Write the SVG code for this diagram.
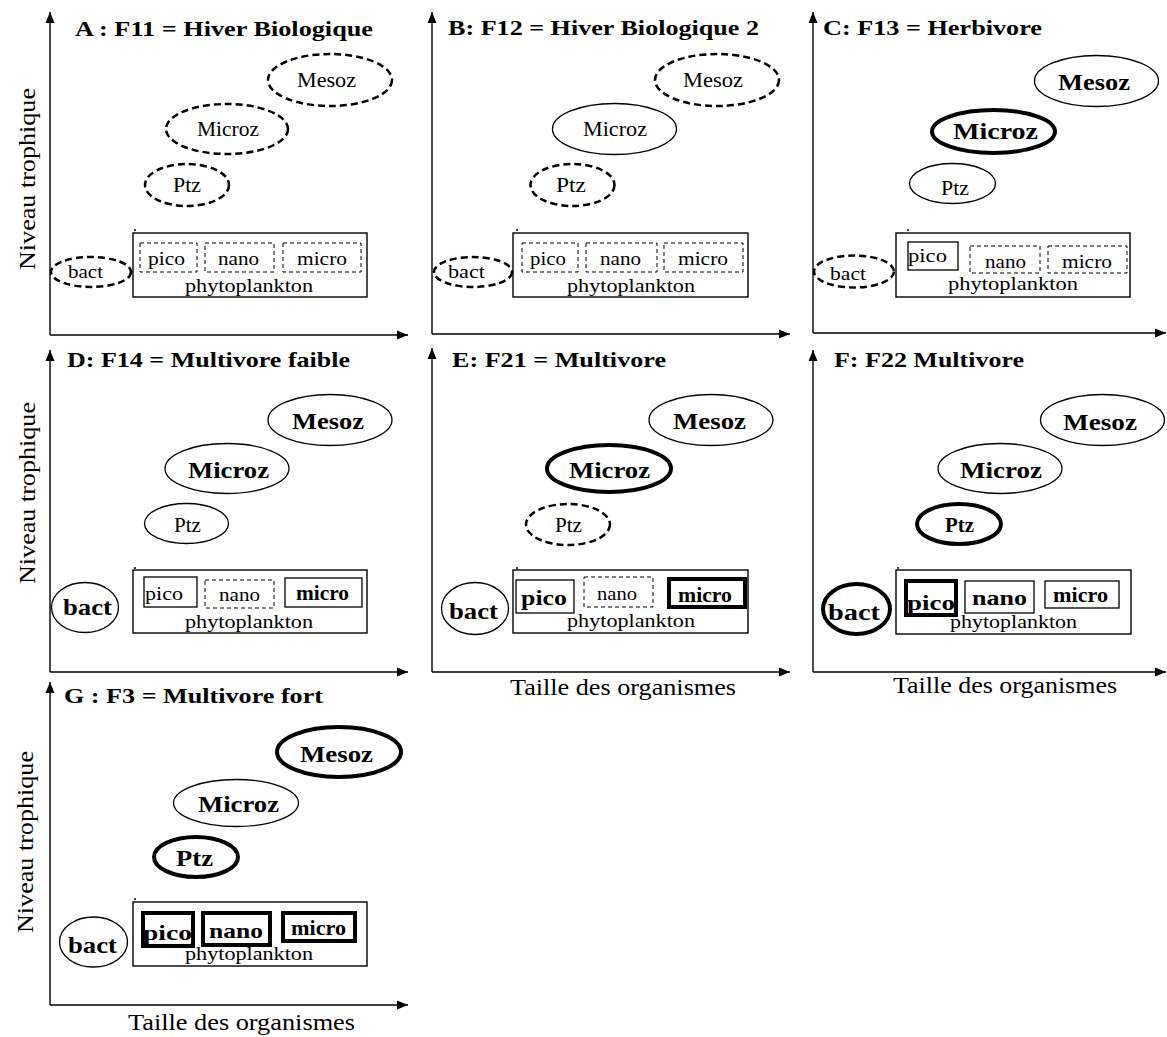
<svg xmlns="http://www.w3.org/2000/svg" width="1167" height="1037" viewBox="0 0 1167 1037">
<defs>
<marker id="arr" markerUnits="userSpaceOnUse" markerWidth="12" markerHeight="10" refX="11" refY="5" orient="auto">
<path d="M0,0.5 L11,5 L0,9.5 z" fill="#000"/>
</marker>
<style>
text{font-family:"Liberation Serif","Times New Roman",serif;fill:#000}
.b{font-weight:bold}
.s18{font-size:18px}.s20{font-size:20px}.s22{font-size:22px}.s24{font-size:24px}
.ax{stroke:#000;stroke-width:1.4;fill:none;marker-end:url(#arr)}
.ed{fill:none;stroke:#000;stroke-width:2.5;stroke-dasharray:7 4}
.en{fill:none;stroke:#000;stroke-width:1.3}
.ek{fill:none;stroke:#000;stroke-width:4}
.rp{fill:none;stroke:#000;stroke-width:1.4}
.bd{fill:none;stroke:#000;stroke-width:1;stroke-dasharray:4 3}
.bn{fill:none;stroke:#000;stroke-width:1.3}
.bk{fill:none;stroke:#000;stroke-width:4}
</style>
</defs>
<rect width="1167" height="1037" fill="#fff"/>

<g id="connectors">
<path class="ax" d="M50,335 V12"/><path class="ax" d="M50,335 H408"/>
<path class="ax" d="M432,334 V12"/><path class="ax" d="M432,334 H790"/>
<path class="ax" d="M813,333 V12"/><path class="ax" d="M813,333 H1166"/>
<path class="ax" d="M50,672 V350"/><path class="ax" d="M50,672 H408"/>
<path class="ax" d="M432,672 V348"/><path class="ax" d="M432,672 H790"/>
<path class="ax" d="M813,672 V350"/><path class="ax" d="M813,672 H1166"/>
<path class="ax" d="M50,1005 V682"/><path class="ax" d="M50,1005 H408"/>
</g>

<g id="axis-labels">
<text class="s24" transform="translate(35,179) rotate(-90)" text-anchor="middle" textLength="182" lengthAdjust="spacingAndGlyphs">Niveau trophique</text>
<text class="s24" transform="translate(35,493) rotate(-90)" text-anchor="middle" textLength="182" lengthAdjust="spacingAndGlyphs">Niveau trophique</text>
<text class="s24" transform="translate(33,842) rotate(-90)" text-anchor="middle" textLength="182" lengthAdjust="spacingAndGlyphs">Niveau trophique</text>
<text class="s24" x="510" y="695" textLength="226" lengthAdjust="spacingAndGlyphs">Taille des organismes</text>
<text class="s24" x="893" y="693" textLength="224" lengthAdjust="spacingAndGlyphs">Taille des organismes</text>
<text class="s24" x="128" y="1030" textLength="227" lengthAdjust="spacingAndGlyphs">Taille des organismes</text>
</g>

<!-- Panel A -->
<g id="panelA">
<text class="b s22" x="75" y="36" textLength="298" lengthAdjust="spacingAndGlyphs">A : F11 = Hiver Biologique</text>
<g id="A-mesoz"><ellipse class="ed" cx="330" cy="80" rx="62" ry="26"/><text class="s20" x="297" y="87" textLength="59" lengthAdjust="spacingAndGlyphs">Mesoz</text></g>
<g id="A-microz"><ellipse class="ed" cx="227" cy="129" rx="61" ry="25"/><text class="s20" x="197" y="136" textLength="62" lengthAdjust="spacingAndGlyphs">Microz</text></g>
<g id="A-ptz"><ellipse class="ed" cx="187" cy="185" rx="42" ry="21"/><text class="s20" x="173" y="192" textLength="28" lengthAdjust="spacingAndGlyphs">Ptz</text></g>
<g id="A-bact"><ellipse class="ed" cx="91" cy="272" rx="40" ry="15"/><text class="s18" x="68" y="278" textLength="35" lengthAdjust="spacingAndGlyphs">bact</text></g>
<g id="A-phyto"><rect class="rp" x="133" y="233" width="234" height="64"/><circle cx="135" cy="230" r="1" fill="#000"/>
<text class="s18" x="185" y="292" textLength="128" lengthAdjust="spacingAndGlyphs">phytoplankton</text></g>
<g id="A-pico"><rect class="bd" x="140" y="243" width="57" height="29"/><text class="s18" x="148" y="265" textLength="37" lengthAdjust="spacingAndGlyphs">pico</text></g>
<g id="A-nano"><rect class="bd" x="205" y="243" width="69" height="29"/><text class="s18" x="218" y="265" textLength="41" lengthAdjust="spacingAndGlyphs">nano</text></g>
<g id="A-micro"><rect class="bd" x="283" y="243" width="78" height="29"/><text class="s18" x="297" y="265" textLength="50" lengthAdjust="spacingAndGlyphs">micro</text></g>
</g>

<!-- Panel B -->
<g id="panelB">
<text class="b s22" x="448" y="35" textLength="311" lengthAdjust="spacingAndGlyphs">B: F12 = Hiver Biologique 2</text>
<g id="B-mesoz"><ellipse class="ed" cx="717" cy="80" rx="62" ry="26"/><text class="s20" x="683" y="87" textLength="60" lengthAdjust="spacingAndGlyphs">Mesoz</text></g>
<g id="B-microz"><ellipse class="en" cx="614.5" cy="129" rx="62" ry="25.5"/><text class="s20" x="583" y="136" textLength="64" lengthAdjust="spacingAndGlyphs">Microz</text></g>
<g id="B-ptz"><ellipse class="ed" cx="572.5" cy="185" rx="42" ry="21"/><text class="s20" x="556" y="192" textLength="30" lengthAdjust="spacingAndGlyphs">Ptz</text></g>
<g id="B-bact"><ellipse class="ed" cx="473" cy="272" rx="39" ry="15"/><text class="s18" x="448" y="278" textLength="37" lengthAdjust="spacingAndGlyphs">bact</text></g>
<g id="B-phyto"><rect class="rp" x="513" y="233" width="235" height="64"/><circle cx="517" cy="230" r="1" fill="#000"/>
<text class="s18" x="567" y="292" textLength="128" lengthAdjust="spacingAndGlyphs">phytoplankton</text></g>
<g id="B-pico"><rect class="bd" x="522" y="243" width="56" height="29"/><text class="s18" x="530" y="265" textLength="36" lengthAdjust="spacingAndGlyphs">pico</text></g>
<g id="B-nano"><rect class="bd" x="586" y="243" width="71" height="29"/><text class="s18" x="600" y="265" textLength="41" lengthAdjust="spacingAndGlyphs">nano</text></g>
<g id="B-micro"><rect class="bd" x="664" y="243" width="79" height="29"/><text class="s18" x="678" y="265" textLength="50" lengthAdjust="spacingAndGlyphs">micro</text></g>
</g>

<!-- Panel C -->
<g id="panelC">
<text class="b s22" x="823" y="35" textLength="219" lengthAdjust="spacingAndGlyphs">C: F13 = Herbivore</text>
<g id="C-mesoz"><ellipse class="en" cx="1096.5" cy="81" rx="62" ry="25.5"/><text class="b s24" x="1058" y="90" textLength="72" lengthAdjust="spacingAndGlyphs">Mesoz</text></g>
<g id="C-microz"><ellipse class="ek" cx="993.5" cy="131.5" rx="61.5" ry="21.5"/><text class="b s24" x="953" y="139" textLength="85" lengthAdjust="spacingAndGlyphs">Microz</text></g>
<g id="C-ptz"><ellipse class="en" cx="952.5" cy="183.5" rx="43" ry="20"/><text class="s20" x="941" y="195" textLength="28" lengthAdjust="spacingAndGlyphs">Ptz</text></g>
<g id="C-bact"><ellipse class="ed" cx="854" cy="271.5" rx="40" ry="16"/><text class="s18" x="830" y="280" textLength="36" lengthAdjust="spacingAndGlyphs">bact</text></g>
<g id="C-phyto"><rect class="rp" x="896" y="233" width="234" height="64"/><circle cx="908" cy="230" r="1" fill="#000"/>
<text class="s18" x="948" y="290" textLength="130" lengthAdjust="spacingAndGlyphs">phytoplankton</text></g>
<g id="C-pico"><rect class="bn" x="908" y="242" width="50" height="28"/><text class="s18" x="908" y="262" textLength="39" lengthAdjust="spacingAndGlyphs">pico</text></g>
<g id="C-nano"><rect class="bd" x="970" y="246" width="70" height="27"/><text class="s18" x="985" y="268" textLength="41" lengthAdjust="spacingAndGlyphs">nano</text></g>
<g id="C-micro"><rect class="bd" x="1048" y="246" width="79" height="27"/><text class="s18" x="1062" y="268" textLength="50" lengthAdjust="spacingAndGlyphs">micro</text></g>
</g>

<!-- Panel D -->
<g id="panelD">
<text class="b s22" x="67" y="367" textLength="283" lengthAdjust="spacingAndGlyphs">D: F14 = Multivore faible</text>
<g id="D-mesoz"><ellipse class="en" cx="330" cy="420" rx="62" ry="25.5"/><text class="b s24" x="292" y="429" textLength="72" lengthAdjust="spacingAndGlyphs">Mesoz</text></g>
<g id="D-microz"><ellipse class="en" cx="227" cy="468.5" rx="62" ry="25"/><text class="b s24" x="188" y="478" textLength="81" lengthAdjust="spacingAndGlyphs">Microz</text></g>
<g id="D-ptz"><ellipse class="en" cx="186.5" cy="523.5" rx="42" ry="20"/><text class="s20" x="174" y="532" textLength="27" lengthAdjust="spacingAndGlyphs">Ptz</text></g>
<g id="D-bact"><ellipse class="en" cx="85" cy="607.5" rx="33.5" ry="25"/><text class="b s24" x="63" y="615" textLength="49" lengthAdjust="spacingAndGlyphs">bact</text></g>
<g id="D-phyto"><rect class="rp" x="133" y="570" width="234" height="63"/><circle cx="135" cy="568" r="1" fill="#000"/>
<text class="s18" x="185" y="628" textLength="128" lengthAdjust="spacingAndGlyphs">phytoplankton</text></g>
<g id="D-pico"><rect class="bn" x="144" y="577" width="53" height="30"/><text class="s18" x="145" y="600" textLength="38" lengthAdjust="spacingAndGlyphs">pico</text></g>
<g id="D-nano"><rect class="bd" x="205" y="580" width="69" height="28"/><text class="s18" x="219" y="601" textLength="41" lengthAdjust="spacingAndGlyphs">nano</text></g>
<g id="D-micro"><rect class="bn" x="285" y="578" width="77" height="29"/><text class="b s20" x="296" y="600" textLength="53" lengthAdjust="spacingAndGlyphs">micro</text></g>
</g>

<!-- Panel E -->
<g id="panelE">
<text class="b s22" x="452" y="367" textLength="214" lengthAdjust="spacingAndGlyphs">E: F21 = Multivore</text>
<g id="E-mesoz"><ellipse class="en" cx="711" cy="420" rx="62" ry="25.5"/><text class="b s24" x="673" y="429" textLength="73" lengthAdjust="spacingAndGlyphs">Mesoz</text></g>
<g id="E-microz"><ellipse class="ek" cx="609" cy="468.5" rx="62" ry="23.5"/><text class="b s24" x="569" y="478" textLength="81" lengthAdjust="spacingAndGlyphs">Microz</text></g>
<g id="E-ptz"><ellipse class="ed" cx="568" cy="524.5" rx="42" ry="20.5"/><text class="s20" x="555" y="532" textLength="27" lengthAdjust="spacingAndGlyphs">Ptz</text></g>
<g id="E-bact"><ellipse class="en" cx="475" cy="608.5" rx="33.5" ry="26"/><text class="b s24" x="449" y="619" textLength="49" lengthAdjust="spacingAndGlyphs">bact</text></g>
<g id="E-phyto"><rect class="rp" x="513" y="570" width="235" height="63"/><circle cx="517" cy="568" r="1" fill="#000"/>
<text class="s18" x="567" y="627" textLength="128" lengthAdjust="spacingAndGlyphs">phytoplankton</text></g>
<g id="E-pico"><rect class="bn" x="516" y="580" width="58" height="33"/><text class="b s22" x="521" y="605" textLength="46" lengthAdjust="spacingAndGlyphs">pico</text></g>
<g id="E-nano"><rect class="bd" x="584" y="577" width="69" height="30"/><text class="s18" x="597" y="600" textLength="40" lengthAdjust="spacingAndGlyphs">nano</text></g>
<g id="E-micro"><rect class="bk" x="669" y="579" width="76" height="28"/><text class="b s20" x="678" y="602" textLength="54" lengthAdjust="spacingAndGlyphs">micro</text></g>
</g>

<!-- Panel F -->
<g id="panelF">
<text class="b s22" x="834" y="367" textLength="190" lengthAdjust="spacingAndGlyphs">F: F22 Multivore</text>
<g id="F-mesoz"><ellipse class="en" cx="1102.5" cy="420" rx="62" ry="25.5"/><text class="b s24" x="1063" y="430" textLength="74" lengthAdjust="spacingAndGlyphs">Mesoz</text></g>
<g id="F-microz"><ellipse class="en" cx="1000" cy="468.5" rx="62" ry="25"/><text class="b s24" x="960" y="478" textLength="82" lengthAdjust="spacingAndGlyphs">Microz</text></g>
<g id="F-ptz"><ellipse class="ek" cx="959" cy="524" rx="42" ry="20"/><text class="b s20" x="945" y="532" textLength="29" lengthAdjust="spacingAndGlyphs">Ptz</text></g>
<g id="F-bact"><ellipse class="ek" cx="856.5" cy="609" rx="33.5" ry="25"/><text class="b s24" x="828" y="620" textLength="52" lengthAdjust="spacingAndGlyphs">bact</text></g>
<g id="F-phyto"><rect class="rp" x="896" y="570" width="235" height="64"/><circle cx="898" cy="568" r="1" fill="#000"/>
<text class="s18" x="950" y="628" textLength="127" lengthAdjust="spacingAndGlyphs">phytoplankton</text></g>
<g id="F-pico"><rect class="bk" x="906" y="581" width="50" height="34"/><text class="b s22" x="907" y="610" textLength="48" lengthAdjust="spacingAndGlyphs">pico</text></g>
<g id="F-nano"><rect class="bn" x="965" y="581" width="69" height="32"/><text class="b s22" x="972" y="605" textLength="55" lengthAdjust="spacingAndGlyphs">nano</text></g>
<g id="F-micro"><rect class="bn" x="1045" y="581" width="74" height="27"/><text class="b s20" x="1053" y="602" textLength="55" lengthAdjust="spacingAndGlyphs">micro</text></g>
</g>

<!-- Panel G -->
<g id="panelG">
<text class="b s22" x="64" y="703" textLength="259" lengthAdjust="spacingAndGlyphs">G : F3 = Multivore fort</text>
<g id="G-mesoz"><ellipse class="ek" cx="339" cy="752" rx="62" ry="25"/><text class="b s24" x="300" y="762" textLength="73" lengthAdjust="spacingAndGlyphs">Mesoz</text></g>
<g id="G-microz"><ellipse class="en" cx="236" cy="803" rx="62.5" ry="23.5"/><text class="b s24" x="198" y="812" textLength="81" lengthAdjust="spacingAndGlyphs">Microz</text></g>
<g id="G-ptz"><ellipse class="ek" cx="196" cy="857" rx="42" ry="20"/><text class="b s24" x="176" y="866" textLength="37" lengthAdjust="spacingAndGlyphs">Ptz</text></g>
<g id="G-bact"><ellipse class="en" cx="93.5" cy="942" rx="34" ry="25"/><text class="b s24" x="68" y="953" textLength="49" lengthAdjust="spacingAndGlyphs">bact</text></g>
<g id="G-phyto"><rect class="rp" x="133" y="902" width="234" height="64"/><circle cx="135" cy="899" r="1" fill="#000"/>
<text class="s18" x="185" y="960" textLength="128" lengthAdjust="spacingAndGlyphs">phytoplankton</text></g>
<g id="G-pico"><rect class="bk" x="143" y="913" width="50" height="33"/><text class="b s22" x="143" y="940" textLength="49" lengthAdjust="spacingAndGlyphs">pico</text></g>
<g id="G-nano"><rect class="bk" x="203" y="913" width="67" height="32"/><text class="b s22" x="209" y="938" textLength="54" lengthAdjust="spacingAndGlyphs">nano</text></g>
<g id="G-micro"><rect class="bk" x="283" y="913" width="72" height="28"/><text class="b s20" x="291" y="935" textLength="55" lengthAdjust="spacingAndGlyphs">micro</text></g>
</g>
</svg>
